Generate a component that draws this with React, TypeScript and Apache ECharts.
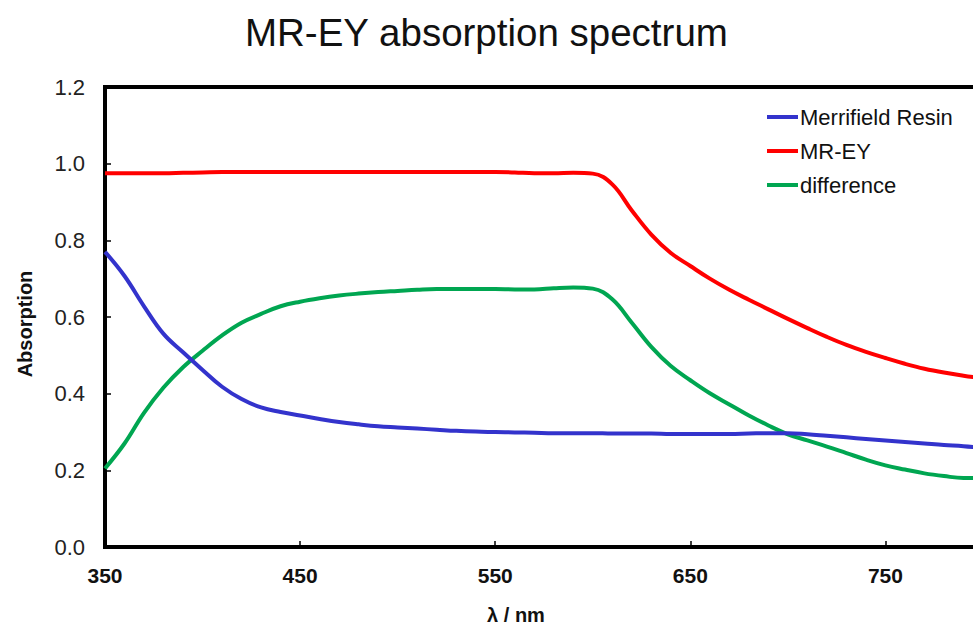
import React, { useEffect, useRef } from "react";
import * as echarts from "echarts";

const wavelengths = [
  350, 360, 370, 380, 390, 400, 410, 420, 430, 440, 450, 460, 470, 480, 490,
  500, 510, 520, 530, 540, 550, 560, 570, 580, 590, 600, 610, 620, 630, 640,
  650, 660, 670, 680, 690, 700, 710, 720, 730, 740, 750, 760, 770, 780, 790, 800,
];

const merrifieldResin = [
  0.770, 0.707, 0.628, 0.556, 0.508, 0.462, 0.418, 0.386, 0.364, 0.352, 0.343,
  0.334, 0.326, 0.320, 0.315, 0.312, 0.309, 0.306, 0.303, 0.301, 0.300, 0.299,
  0.298, 0.297, 0.297, 0.297, 0.296, 0.296, 0.296, 0.295, 0.295, 0.295, 0.295,
  0.296, 0.297, 0.297, 0.294, 0.290, 0.286, 0.282, 0.278, 0.274, 0.270, 0.266,
  0.263, 0.258,
];

const mrEY = [
  0.975, 0.975, 0.975, 0.975, 0.976, 0.977, 0.978, 0.978, 0.978, 0.978, 0.978,
  0.978, 0.978, 0.978, 0.978, 0.978, 0.978, 0.978, 0.978, 0.978, 0.978, 0.977,
  0.975, 0.975, 0.976, 0.974, 0.946, 0.878, 0.815, 0.767, 0.733, 0.700, 0.671,
  0.645, 0.620, 0.595, 0.571, 0.548, 0.527, 0.509, 0.493, 0.478, 0.465, 0.455,
  0.447, 0.440,
];

const difference = [
  0.205, 0.270, 0.350, 0.416, 0.469, 0.512, 0.552, 0.585, 0.608, 0.628, 0.640,
  0.649, 0.656, 0.661, 0.665, 0.668, 0.671, 0.673, 0.673, 0.673, 0.673, 0.672,
  0.672, 0.675, 0.677, 0.674, 0.646, 0.585, 0.522, 0.472, 0.435, 0.401, 0.372,
  0.343, 0.317, 0.294, 0.278, 0.262, 0.245, 0.228, 0.213, 0.202, 0.192, 0.185,
  0.180, 0.180,
];

const seriesNames = ["Merrifield Resin", "MR-EY", "difference"];
const seriesColors = ["#3333CC", "#FF0000", "#00A651"];
const seriesValues = [merrifieldResin, mrEY, difference];

const FONT = "'Liberation Sans', Arial, Helvetica, sans-serif";

export default function App() {
  const ref = useRef<HTMLDivElement>(null);

  useEffect(() => {
    if (!ref.current) return;
    const chart = echarts.init(ref.current, undefined, { renderer: "svg" });
    chart.setOption({
      animation: false,
      backgroundColor: "#ffffff",
      textStyle: { fontFamily: FONT },
      title: {
        text: "MR-EY absorption spectrum",
        left: 245,
        top: 13,
        padding: 0,
        textStyle: { fontSize: 38.5, fontWeight: "normal", color: "#111", fontFamily: FONT },
      },
      legend: {
        orient: "vertical",
        left: 767,
        top: 106,
        icon: "rect",
        itemWidth: 31,
        itemHeight: 4,
        itemGap: 12,
        padding: 0,
        textStyle: { fontSize: 22, color: "#111", padding: [0, 0, 0, -3], fontFamily: FONT },
        data: seriesNames,
      },
      grid: {
        left: 105,
        top: 87,
        right: 0,
        bottom: 78,
        show: true,
        borderColor: "#000",
        borderWidth: 4,
      },
      xAxis: {
        type: "value",
        min: 350,
        max: 800,
        interval: 100,
        axisLine: { show: true, lineStyle: { color: "#000", width: 4 } },
        axisTick: { show: true, inside: true, length: 6, lineStyle: { color: "#000", width: 1.5 } },
        axisLabel: {
          fontSize: 21,
          fontWeight: "bold",
          color: "#111",
          margin: 18,
          showMaxLabel: false,
          fontFamily: FONT,
        },
        splitLine: { show: false },
      },
      yAxis: {
        type: "value",
        min: 0,
        max: 1.2,
        interval: 0.2,
        axisLine: { show: true, lineStyle: { color: "#000", width: 4 } },
        axisTick: { show: true, inside: true, length: 6, lineStyle: { color: "#000", width: 1.5 } },
        axisLabel: {
          fontSize: 22,
          color: "#222",
          margin: 20,
          formatter: (v: number) => v.toFixed(1),
          fontFamily: FONT,
        },
        splitLine: { show: false },
      },
      graphic: [
        {
          type: "text",
          x: 516,
          y: 615,
          style: {
            text: "λ / nm",
            font: `bold 20px ${FONT}`,
            fill: "#111",
            textAlign: "center",
            textVerticalAlign: "middle",
          },
        },
        {
          type: "text",
          x: 25,
          y: 324,
          rotation: Math.PI / 2,
          style: {
            text: "Absorption",
            font: `bold 20px ${FONT}`,
            fill: "#111",
            textAlign: "center",
            textVerticalAlign: "middle",
          },
        },
      ],
      series: seriesNames.map((name, i) => ({
        name,
        type: "line",
        showSymbol: false,
        smooth: 0.4,
        lineStyle: { color: seriesColors[i], width: 4 },
        itemStyle: { color: seriesColors[i] },
        data: wavelengths.map((w, j) => [w, seriesValues[i][j]]),
        z: 3 - i,
      })),
    });
    return () => chart.dispose();
  }, []);

  return (
    <div
      style={{
        position: "fixed",
        left: 0,
        top: 0,
        width: 973,
        height: 625,
        overflow: "hidden",
        background: "#fff",
      }}
    >
      <div ref={ref} style={{ width: 983, height: 625 }} />
    </div>
  );
}
